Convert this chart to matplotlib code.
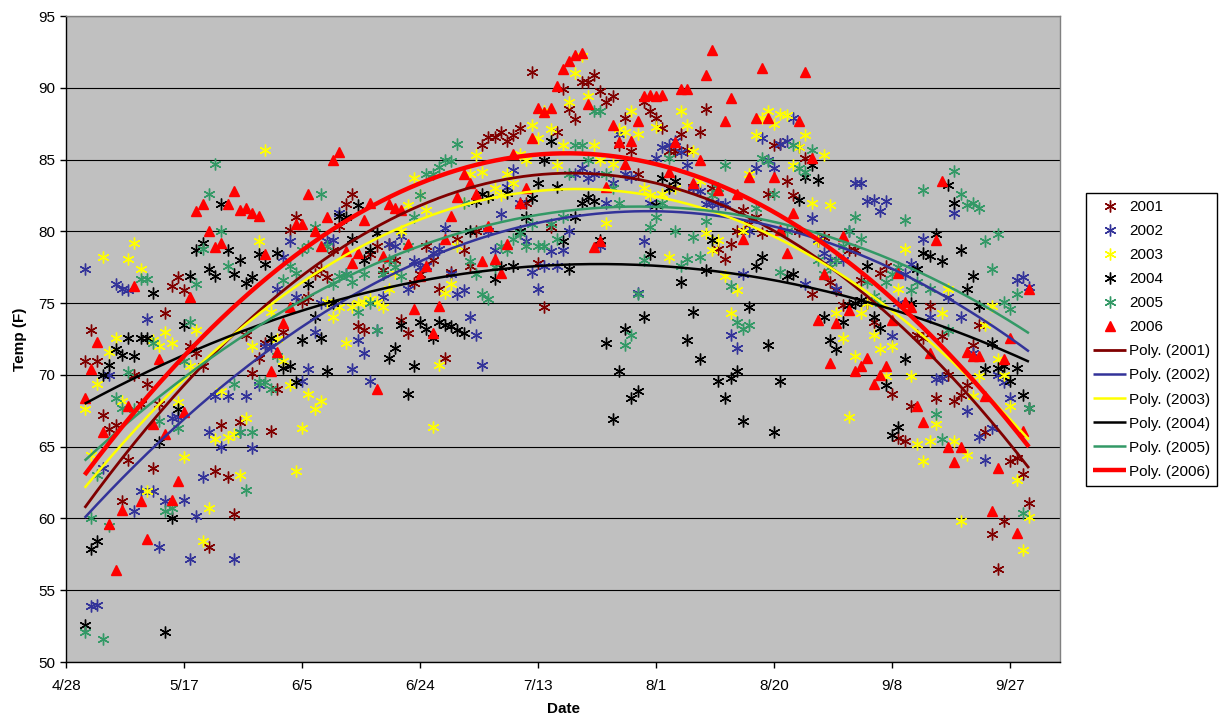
import numpy as np
import pandas as pd
import matplotlib
matplotlib.use('Agg')
import matplotlib.pyplot as plt
import matplotlib.dates as mdates

plt.rcParams['font.family'] = ['Liberation Sans', 'DejaVu Sans']

# ---------------- data ----------------
dates = pd.date_range('2006-05-01', '2006-09-30', freq='D')
years = ['2001', '2002', '2003', '2004', '2005', '2006']

t2001 = [71.0, 73.1, 71.0, 67.2, 66.2, 66.5, 61.2, 64.1, 70.0, 68.0,
         69.4, 63.5, 68.0, 74.3, 76.2, 76.8, 75.9, 72.0, 71.5, 70.6,
         58.0, 63.3, 66.5, 62.9, 60.3, 66.7, 72.8, 70.1, 71.2, 72.2,
         66.1, 69.0, 73.0, 80.1, 81.0, 75.1, 75.4, 77.0, 77.4, 76.8,
         78.7, 80.4, 81.9, 82.6, 73.4, 73.1, 78.4, 79.0, 77.3, 79.1,
         78.0, 73.8, 72.9, 76.4, 77.0, 79.0, 78.0, 76.0, 71.2, 77.2,
         79.5, 78.7, 77.6, 80.0, 86.0, 86.6, 86.6, 86.9, 86.3, 86.7,
         87.2, 82.0, 91.1, 77.8, 74.7, 80.3, 86.9, 89.9, 88.5, 87.8,
         90.4, 90.4, 90.9, 89.8, 89.0, 89.4, 86.0, 87.9, 85.6, 84.0,
         89.0, 88.4, 87.9, 87.2, 85.6, 85.6, 86.8, 85.7, 83.1, 86.9,
         88.5, 83.0, 78.8, 78.1, 79.1, 80.0, 81.5, 80.5, 81.0, 79.9,
         82.6, 86.0, 86.1, 83.5, 82.5, 80.0, 85.1, 75.6, 79.3, 79.6,
         76.5, 75.9, 74.9, 78.7, 78.7, 76.6, 75.0, 73.7, 77.1, 77.6,
         68.7, 65.6, 65.4, 67.8, 72.8, 72.6, 74.8, 68.4, 72.7, 70.0,
         68.2, 68.6, 69.3, 72.1, 73.5, 66.0, 58.9, 56.5, 59.8, 64.0,
         64.2, 63.1, 61.1]

t2002 = [77.4, 53.9, 54.0, 63.5, 70.0, 76.3, 76.0, 75.9, 60.5, 61.9,
         73.9, 61.9, 58.0, 61.2, 67.0, 67.1, 61.3, 57.2, 60.2, 62.9,
         66.0, 68.5, 65.0, 68.5, 57.2, 66.0, 68.5, 64.9, 69.3, 72.0,
         72.0, 76.0, 78.2, 79.3, 75.4, 69.6, 70.4, 73.0, 75.0, 79.3,
         79.4, 81.3, 77.0, 70.4, 72.4, 71.5, 69.6, 73.1, 75.4, 79.1,
         79.0, 79.7, 76.0, 77.9, 77.5, 77.6, 78.5, 78.8, 80.2, 77.0,
         75.6, 75.9, 74.0, 72.8, 70.7, 80.0, 78.7, 81.2, 83.1, 84.3,
         82.0, 79.3, 77.2, 76.0, 77.6, 78.6, 77.6, 78.7, 80.0, 84.0,
         84.4, 83.7, 84.0, 79.0, 82.0, 83.4, 86.8, 84.0, 83.8, 75.7,
         79.3, 82.0, 85.1, 85.9, 86.0, 86.3, 85.5, 84.6, 83.0, 82.8,
         81.9, 82.0, 81.9, 81.9, 72.8, 71.9, 77.0, 80.0, 84.4, 86.5,
         85.0, 84.4, 86.1, 86.3, 87.9, 85.9, 76.3, 80.9, 79.5, 78.5,
         78.0, 76.0, 78.0, 80.0, 83.4, 83.4, 82.1, 82.2, 81.4, 82.1,
         72.7, 75.0, 77.0, 77.7, 77.4, 79.5, 74.0, 69.7, 69.8, 75.4,
         81.3, 74.0, 67.5, 71.5, 65.7, 64.1, 66.3, 70.0, 69.5, 68.4,
         76.6, 76.8, 76.1]

t2003 = [67.6, 64.4, 69.4, 78.2, 71.6, 72.6, 68.2, 78.1, 79.2, 77.4,
         61.9, 72.4, 72.0, 73.0, 72.2, 68.1, 64.3, 70.6, 73.1, 58.4,
         60.7, 65.5, 68.9, 65.7, 65.9, 63.0, 67.0, 72.0, 79.3, 85.7,
         74.4, 72.5, 71.0, 69.3, 63.3, 66.3, 68.7, 67.6, 68.2, 75.1,
         74.0, 74.7, 72.2, 74.7, 75.0, 75.1, 75.3, 75.1, 74.7, 76.0,
         77.1, 80.0, 81.8, 83.7, 82.5, 81.5, 66.4, 70.7, 75.7, 76.3,
         79.0, 82.0, 84.0, 85.3, 84.1, 82.4, 83.0, 82.5, 84.0, 83.4,
         85.4, 85.0, 87.4, 86.5, 88.4, 87.1, 84.6, 86.0, 89.0, 91.0,
         92.2, 89.4, 86.0, 85.0, 80.6, 84.7, 87.1, 86.9, 88.4, 86.8,
         83.0, 82.5, 87.3, 82.6, 78.2, 83.0, 88.4, 87.4, 85.6, 83.5,
         79.9, 78.7, 79.4, 76.9, 74.3, 75.9, 80.0, 84.0, 86.7, 87.9,
         88.4, 87.5, 88.2, 88.1, 84.6, 85.9, 86.7, 82.0, 79.3, 85.3,
         81.8, 74.3, 72.6, 67.1, 71.3, 74.3, 75.0, 72.8, 71.8, 69.9,
         72.0, 76.0, 78.8, 69.9, 65.2, 64.0, 65.4, 66.6, 74.3, 76.0,
         65.4, 59.8, 64.4, 68.5, 69.9, 73.5, 74.8, 71.1, 70.0, 67.8,
         62.7, 57.8, 60.1]

t2004 = [52.6, 57.9, 58.4, 70.0, 70.7, 71.8, 71.4, 72.6, 71.3, 72.6,
         72.6, 75.7, 65.3, 52.1, 60.0, 67.6, 73.5, 76.9, 78.7, 79.2,
         77.4, 76.9, 81.9, 78.7, 77.0, 78.0, 76.4, 76.8, 78.4, 77.7,
         72.6, 78.5, 70.5, 70.6, 69.5, 72.4, 76.3, 74.0, 72.6, 70.3,
         75.0, 81.1, 81.0, 79.5, 81.8, 78.0, 78.7, 79.9, 77.0, 71.2,
         71.9, 73.5, 68.7, 70.6, 73.7, 73.2, 72.6, 73.7, 73.5, 73.4,
         73.1, 72.9, 80.0, 82.1, 82.6, 82.4, 76.7, 77.5, 82.7, 77.6,
         80.0, 81.0, 82.3, 83.4, 85.0, 86.3, 83.1, 79.3, 77.4, 81.0,
         82.0, 82.4, 82.1, 79.4, 72.2, 66.9, 70.3, 73.2, 68.4, 68.9,
         74.0, 78.4, 81.8, 83.7, 83.0, 83.5, 76.5, 72.4, 74.4, 71.1,
         77.3, 79.4, 69.6, 68.4, 69.8, 70.3, 66.8, 74.7, 77.6, 78.2,
         72.1, 66.0, 69.6, 76.9, 77.0, 82.2, 83.8, 84.6, 83.6, 74.0,
         72.4, 71.8, 73.7, 74.9, 75.0, 75.2, 77.6, 74.0, 73.3, 69.3,
         65.8, 66.4, 71.1, 75.0, 77.4, 78.5, 78.3, 79.8, 77.9, 83.2,
         82.0, 78.7, 76.0, 76.9, 74.8, 70.4, 72.2, 70.5, 70.6, 69.6,
         70.5, 68.6, 67.7]

t2005 = [52.1, 60.0, 63.0, 51.6, 59.5, 68.4, 67.7, 70.2, 67.6, 76.7,
         76.7, 72.2, 66.8, 60.5, 60.7, 66.3, 71.0, 73.7, 76.3, 78.8,
         82.6, 84.7, 80.0, 77.6, 69.4, 66.0, 62.0, 66.0, 69.5, 69.5,
         69.0, 71.3, 76.6, 77.6, 77.1, 78.7, 79.0, 80.3, 82.6, 79.0,
         76.3, 76.9, 77.0, 76.5, 74.4, 77.0, 75.0, 73.1, 77.0, 78.0,
         77.5, 76.9, 79.0, 81.0, 82.5, 84.0, 84.0, 84.5, 85.0, 84.9,
         86.1, 82.0, 77.9, 77.0, 75.6, 75.3, 77.5, 79.0, 78.7, 79.5,
         79.9, 79.0, 80.5, 79.0, 79.0, 80.5, 79.5, 81.0, 84.0, 86.0,
         86.0, 85.0, 88.4, 88.4, 84.0, 83.0, 82.0, 72.1, 72.8, 75.6,
         78.0, 80.3, 81.0, 82.0, 85.1, 80.0, 77.6, 78.1, 79.6, 78.2,
         80.7, 82.5, 83.0, 84.6, 76.2, 73.7, 73.2, 73.5, 81.6, 85.1,
         84.9, 82.6, 77.2, 80.0, 86.0, 84.4, 84.1, 85.7, 78.0, 77.0,
         77.5, 78.0, 79.0, 80.0, 81.0, 79.5, 76.5, 75.5, 75.0, 76.5,
         77.0, 77.5, 80.8, 75.9, 76.5, 82.9, 76.0, 67.3, 65.5, 73.1,
         84.2, 82.6, 81.8, 82.0, 81.6, 79.3, 77.4, 79.8, 75.1, 74.6,
         75.6, 60.4, 67.7]

t2006 = [68.4, 70.4, 72.3, 66.0, 59.6, 56.4, 60.6, 67.8, 76.2, 61.2,
         58.6, 66.6, 71.1, 65.9, 61.3, 62.6, 67.4, 75.4, 81.4, 81.9,
         80.0, 78.9, 79.2, 81.9, 82.8, 81.5, 81.6, 81.3, 81.1, 78.4,
         70.3, 71.6, 73.6, 74.7, 80.5, 80.5, 82.6, 80.0, 79.0, 81.0,
         85.0, 85.5, 78.6, 77.8, 78.5, 80.8, 82.0, 69.0, 78.3, 81.9,
         81.6, 81.5, 79.1, 74.6, 76.9, 77.6, 72.9, 74.8, 79.5, 81.1,
         82.4, 84.0, 83.4, 82.6, 77.9, 80.4, 78.1, 77.1, 79.1, 85.4,
         82.0, 83.0, 86.5, 88.6, 88.3, 88.6, 90.1, 91.3, 91.9, 92.3,
         92.4, 88.9, 78.9, 79.3, 83.1, 87.4, 86.2, 84.7, 86.3, 87.7,
         89.4, 89.5, 89.4, 89.5, 84.1, 86.2, 89.9, 89.9, 83.4, 85.0,
         90.9, 92.6, 82.9, 87.7, 89.3, 82.6, 79.5, 83.8, 87.9, 91.4,
         87.9, 83.8, 80.1, 78.5, 81.3, 87.7, 91.1, 85.1, 73.8, 77.0,
         70.8, 73.6, 79.7, 74.5, 70.3, 70.6, 71.2, 69.4, 70.0, 70.6,
         73.8, 77.1, 75.1, 74.7, 67.8, 66.7, 71.5, 79.4, 83.5, 65.0,
         63.9, 65.0, 71.6, 71.3, 71.3, 68.5, 60.5, 63.5, 71.1, 72.6,
         59.0, 66.1, 76.0]

series = [t2001, t2002, t2003, t2004, t2005, t2006]
colors = ['#800000', '#333399', '#FFFF00', '#000000', '#339966', '#FF0000']
trend_widths = [2.0, 1.8, 1.8, 1.8, 1.8, 3.2]

tick_dates = pd.date_range('2006-04-28', periods=9, freq='19D')
x_min = pd.Timestamp('2006-04-28')
x_max = pd.Timestamp('2006-10-05')
y_ticks = [50, 55, 60, 65, 70, 75, 80, 85, 90, 95]

# ---------------- figure ----------------
fig = plt.figure(figsize=(12.21, 7.23), dpi=100)
ax = fig.add_axes([66 / 1221, 61 / 723, (1060 - 66) / 1221, (662 - 16) / 723])
ax.set_facecolor('#C0C0C0')
ax.set_axisbelow(True)

star = (6, 2, 0)
handles = []
for yr, vals, col in zip(years, series, colors):
    if yr == '2006':
        h, = ax.plot(dates, vals, linestyle='none', marker='^', markersize=7,
                     color=col, markeredgecolor=col, label=yr, zorder=3)
    else:
        h, = ax.plot(dates, vals, linestyle='none', marker=star, markersize=8.5,
                     markeredgewidth=1.0, color=col, markeredgecolor=col,
                     label=yr, zorder=3)
    handles.append(h)

xnum = mdates.date2num(dates)
x0 = xnum[0]
xfine = np.linspace(xnum[0], xnum[-1], 300)
for yr, vals, col, lw in zip(years, series, colors, trend_widths):
    c = np.polyfit(xnum - x0, np.asarray(vals, float), 2)
    h, = ax.plot(mdates.num2date(xfine), np.polyval(c, xfine - x0), color=col,
                 lw=lw, label='Poly. (%s)' % yr, zorder=4, solid_capstyle='butt')
    handles.append(h)

ax.set_xlim(x_min, x_max)
ax.set_ylim(50, 95)
ax.set_yticks(y_ticks)
ax.set_xticks(tick_dates)
ax.xaxis.set_major_formatter(mdates.DateFormatter('%-m/%-d'))
ax.yaxis.grid(True, color='black', lw=0.8)
ax.xaxis.grid(False)

for s in ['left', 'bottom']:
    ax.spines[s].set_color('black')
    ax.spines[s].set_linewidth(1.0)
for s in ['top', 'right']:
    ax.spines[s].set_color('#808080')
    ax.spines[s].set_linewidth(1.0)

ax.tick_params(axis='both', direction='out', length=4, width=1, labelsize=11, colors='black')
ax.tick_params(axis='x', pad=8)
ax.set_xlabel('Date', fontsize=11, fontweight='bold', labelpad=7)
ax.set_ylabel('Temp (F)', fontsize=11, fontweight='bold', labelpad=8)

leg = fig.legend(handles=handles, loc='upper left',
                 bbox_to_anchor=(1086 / 1221, 1 - 193 / 723),
                 fontsize=11, frameon=True, fancybox=False, framealpha=1,
                 edgecolor='black', handlelength=2.2, handletextpad=0.15,
                 labelspacing=0.66, borderpad=0.45, borderaxespad=0)
leg.get_frame().set_linewidth(1.0)

fig.savefig('out.png', dpi=100)
